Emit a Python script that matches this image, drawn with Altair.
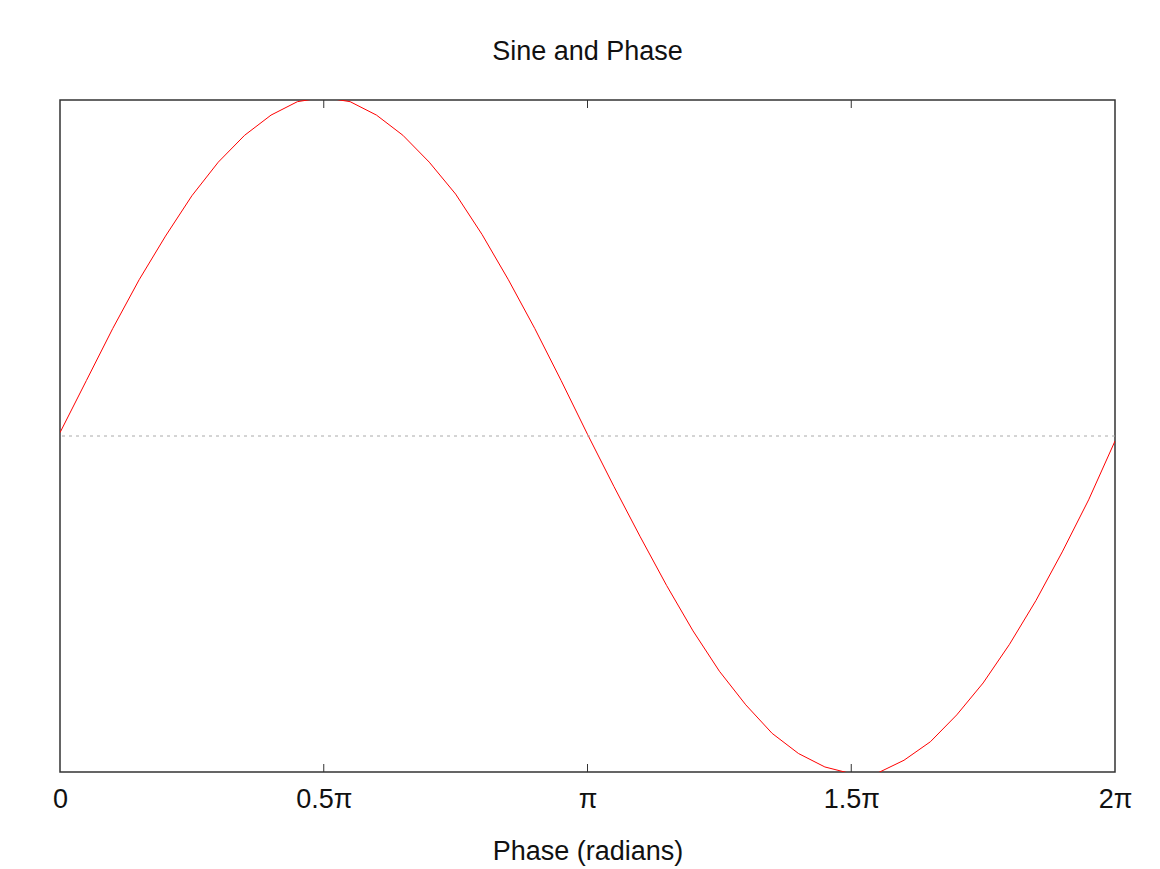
import altair as alt
import pandas as pd

# phase in multiples of pi
phase = [0.00, 0.05, 0.10, 0.15, 0.20, 0.25, 0.30, 0.35, 0.40, 0.45,
         0.50, 0.55, 0.60, 0.65, 0.70, 0.75, 0.80, 0.85, 0.90, 0.95,
         1.00, 1.05, 1.10, 1.15, 1.20, 1.25, 1.30, 1.35, 1.40, 1.45,
         1.50, 1.55, 1.60, 1.65, 1.70, 1.75, 1.80, 1.85, 1.90, 1.95, 2.00]
value = [0.01, 0.165, 0.32, 0.465, 0.595, 0.715, 0.815, 0.895, 0.955, 0.995,
         1.008, 0.995, 0.955, 0.895, 0.815, 0.72, 0.60, 0.465, 0.32, 0.165,
         0.005, -0.15, -0.30, -0.445, -0.58, -0.70, -0.80, -0.885, -0.945, -0.985,
         -1.005, -1.003, -0.965, -0.91, -0.83, -0.735, -0.62, -0.49, -0.345, -0.19, -0.015]

tick_values = [0, 0.5, 1, 1.5, 2]
inner_ticks = [0.5, 1, 1.5]

df = pd.DataFrame({"phase": phase, "value": value})
ticks_df = pd.DataFrame({"phase": inner_ticks})
zero_df = pd.DataFrame({"value": [0]})

xscale = alt.Scale(domain=[0, 2], nice=False, zero=False)
yscale = alt.Scale(domain=[-1, 1], nice=False, zero=False)

label_expr = ("datum.value == 0 ? '0' : datum.value == 1 ? 'π' : "
              "datum.value == 2 ? '2π' : datum.value + 'π'")

xaxis = alt.Axis(values=tick_values, labelExpr=label_expr, title="Phase (radians)",
                 grid=False, domain=False, ticks=False, labelPadding=14,
                 labelFontSize=27, labelFont="Liberation Sans", labelColor="#111",
                 titleFontSize=27, titleFont="Liberation Sans", titleFontWeight="normal",
                 titleColor="#111", titlePadding=26, labelFlush=False)

X = alt.X("phase:Q", scale=xscale, axis=xaxis)
Y = alt.Y("value:Q", scale=yscale, axis=None)

line = alt.Chart(df).mark_line(color="#ff0000", strokeWidth=1, clip=True).encode(x=X, y=Y)

zero = alt.Chart(zero_df).mark_rule(color="#aaaaaa", strokeWidth=1, strokeDash=[3, 4]).encode(y=Y)

top_ticks = alt.Chart(ticks_df).mark_rule(color="#333333", strokeWidth=1).encode(
    x=X, y=alt.value(0), y2=alt.value(8),
)
bottom_ticks = alt.Chart(ticks_df).mark_rule(color="#333333", strokeWidth=1).encode(
    x=X, y=alt.value(664), y2=alt.value(672),
)

chart = alt.layer(line, zero, top_ticks, bottom_ticks).properties(
    width=1055, height=672,
    title=alt.TitleParams("Sine and Phase", fontSize=27, font="Liberation Sans",
                          fontWeight="normal", color="#111", offset=34, anchor="middle"),
    autosize=alt.AutoSizeParams(type="none"),
    padding={"left": 52, "top": 92, "right": 37, "bottom": 95},
    background="white",
).configure_view(stroke="#333333", strokeWidth=1.5)

chart.save("out.html", embed_options={"renderer": "svg", "actions": False})
